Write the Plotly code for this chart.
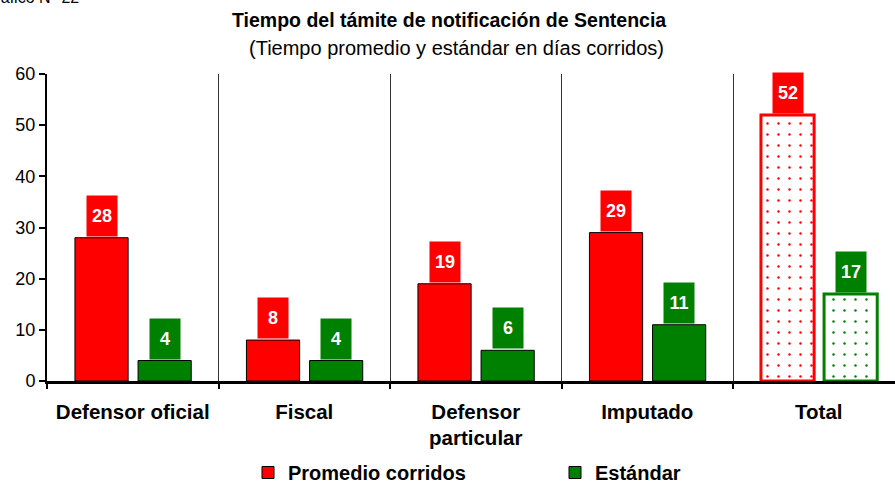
import plotly.graph_objects as go

categories = ["Defensor oficial", "Fiscal", "Defensor<br>particular", "Imputado", "Total"]
promedio = [28, 8, 19, 29, 52]
estandar = [4, 4, 6, 11, 17]
y_ticks = [0, 10, 20, 30, 40, 50, 60]

RED = "#FF0000"
GREEN = "#008000"
FONT = "Liberation Sans, Arial, sans-serif"

xpos = list(range(len(categories)))
is_total = [c == "Total" for c in categories]

BW = 0.31
OFF_R = -0.337
OFF_G = 0.031

fig = go.Figure()

def bar_trace(vals, color, offset):
    return go.Bar(
        x=xpos, y=vals, width=BW, offset=offset, showlegend=False,
        marker=dict(
            color=color,
            line=dict(color=[color if t else "black" for t in is_total],
                      width=[3 if t else 1 for t in is_total]),
            pattern=dict(shape=["." if t else "" for t in is_total],
                         fgcolor=color, bgcolor="white", size=11, solidity=0.04,
                         fillmode="replace"),
        ),
        hoverinfo="skip",
    )

fig.add_trace(bar_trace(promedio, RED, OFF_R))
fig.add_trace(bar_trace(estandar, GREEN, OFF_G))

# legend-only traces
fig.add_trace(go.Bar(x=[None], y=[None], name="Promedio corridos",
                     marker=dict(color=RED, line=dict(color="black", width=1))))
fig.add_trace(go.Bar(x=[None], y=[None], name="Estándar",
                     marker=dict(color=GREEN, line=dict(color="black", width=1))))

annotations = []
for vals, color, off in [(promedio, RED, OFF_R), (estandar, GREEN, OFF_G)]:
    for i, v in enumerate(vals):
        annotations.append(dict(
            x=xpos[i] + off + BW / 2, y=v, xref="x", yref="y",
            text=f"<b>{v}</b>", showarrow=False, yanchor="bottom", yshift=1,
            bgcolor=color, width=28, height=38, borderpad=1,
            font=dict(family=FONT, size=18, color="white"),
            align="center", valign="middle",
        ))

annotations += [
    dict(x=0.4746, y=1.0 + 54 / 307, xref="paper", yref="paper", showarrow=False,
         text="<b>Tiempo del támite de notificación de Sentencia</b>",
         font=dict(family=FONT, size=19.5, color="black"), xanchor="center", yanchor="middle"),
    dict(x=0.4829, y=1.0 + 26 / 307, xref="paper", yref="paper", showarrow=False,
         text="(Tiempo promedio y estándar en días corridos)",
         font=dict(family=FONT, size=20, color="black"), xanchor="center", yanchor="middle"),
    dict(x=-66 / 848, y=1.0 + 76 / 307, xref="paper", yref="paper", showarrow=False,
         text="Gráfico N° 22", xanchor="left", yanchor="middle",
         font=dict(family=FONT, size=16, color="black")),
]

fig.update_layout(
    width=895, height=483,
    margin=dict(l=47, r=0, t=74, b=102, autoexpand=False),
    paper_bgcolor="white", plot_bgcolor="white",
    barmode="overlay",
    font=dict(family=FONT, color="black"),
    annotations=annotations,
    showlegend=True,
    legend=dict(orientation="h", x=(248 - 47) / 848, xanchor="left", y=-0.298, yanchor="middle",
                font=dict(family=FONT, size=20, color="black", weight="bold"),
                entrywidth=262, entrywidthmode="pixels", itemclick=False),
)

fig.update_xaxes(
    range=[-0.5, -0.5 + 848 / 171.5],
    tickvals=xpos, ticktext=categories,
    tickfont=dict(family=FONT, size=20.5, color="black", weight="bold"),
    ticks="", ticklabelstandoff=10,
    showline=True, linecolor="black", linewidth=3,
    showgrid=False, zeroline=False,
    minor=dict(tick0=0.5, dtick=1, ticks="outside", ticklen=5, tickwidth=2, tickcolor="black",
               showgrid=True, gridcolor="#333333", gridwidth=1),
    fixedrange=True,
)
fig.update_yaxes(
    range=[0, 60], tickvals=y_ticks,
    tickfont=dict(family=FONT, size=18, color="black"),
    ticks="outside", ticklen=6, tickwidth=2, tickcolor="black",
    showline=True, linecolor="black", linewidth=2,
    showgrid=False, zeroline=False, fixedrange=True,
)

fig.write_html("out.html", config={"displayModeBar": False},
               post_script="document.body.style.margin='0';")
